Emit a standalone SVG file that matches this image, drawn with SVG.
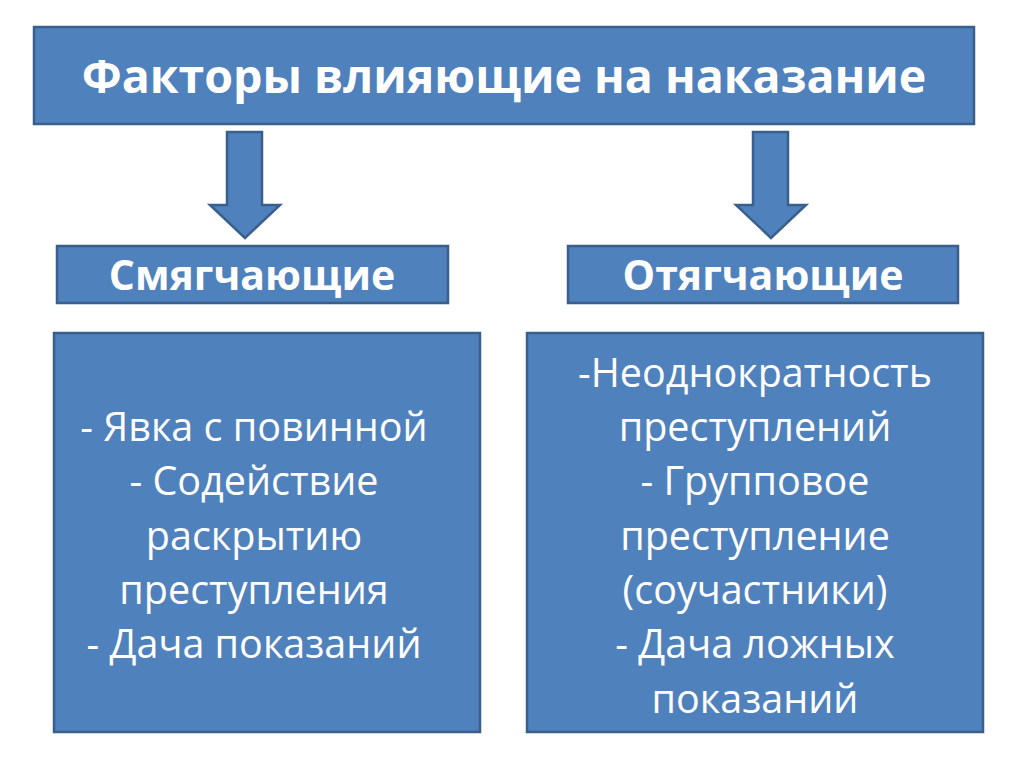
<svg xmlns="http://www.w3.org/2000/svg" width="1024" height="767" viewBox="0 0 1024 767">
<style>
.box{fill:#4F81BD;stroke:#3A5F8C;stroke-width:2.5}
.arr{fill:#4F81BD;stroke:#3A5F8C;stroke-width:2.5;stroke-linejoin:miter}
.t{fill:#fff;font-family:"Open Sans","Noto Sans",sans-serif;text-anchor:middle}
.b{font-weight:bold}
.title{font-size:46.5px}
.sub{font-size:41px}
.body{font-size:39.5px}
</style>
<rect width="1024" height="767" fill="#fff"/>
<g id="title">
<rect class="box" x="34" y="27" width="940" height="97"/>
<text class="t b title" x="504" y="93">Факторы влияющие на наказание</text>
</g>
<g id="connectors">
<polygon class="arr" points="227,132 262,132 262,205 280,205 245,238 210,205 227,205"/>
<polygon class="arr" points="753,132 788,132 788,205 806,205 771,238 736,205 753,205"/>
</g>
<g id="mitigating">
<rect class="box" x="57" y="246" width="391" height="57"/>
<text class="t b sub" x="252" y="290">Смягчающие</text>
</g>
<g id="aggravating">
<rect class="box" x="568" y="246" width="390" height="57"/>
<text class="t b sub" x="763" y="290">Отягчающие</text>
</g>
<g id="mitigating-list">
<rect class="box" x="54" y="333" width="426" height="399"/>
<text class="t body" x="254" y="441">- Явка с повинной</text>
<text class="t body" x="254" y="495">- Содействие</text>
<text class="t body" x="254" y="550">раскрытию</text>
<text class="t body" x="254" y="604">преступления</text>
<text class="t body" x="254" y="658">- Дача показаний</text>
</g>
<g id="aggravating-list">
<rect class="box" x="527" y="333" width="456" height="399"/>
<text class="t body" x="755" y="387">-Неоднократность</text>
<text class="t body" x="755" y="441">преступлений</text>
<text class="t body" x="755" y="495">- Групповое</text>
<text class="t body" x="755" y="550">преступление</text>
<text class="t body" x="755" y="604">(соучастники)</text>
<text class="t body" x="755" y="658">- Дача ложных</text>
<text class="t body" x="755" y="713">показаний</text>
</g>
</svg>
